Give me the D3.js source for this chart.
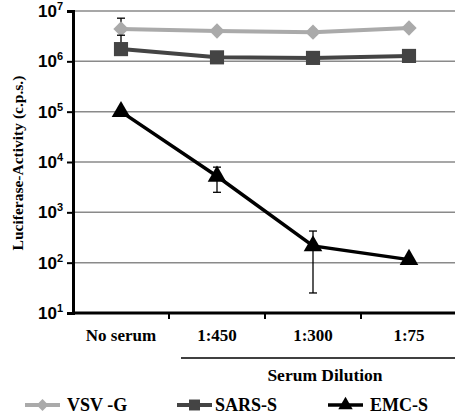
<!DOCTYPE html>
<html><head><meta charset="utf-8">
<script src="https://cdn.jsdelivr.net/npm/d3@7"></script>
<style>body{margin:0;background:#fff}svg{display:block}</style>
</head><body>
<svg id="c" width="455" height="418"></svg>
<script>
const categories = ["No serum","1:450","1:300","1:75"];
const yTicks = [1,2,3,4,5,6,7];
const seriesNames = ["VSV -G","SARS-S","EMC-S"];
const vsvValues = [4.4e6, 4.0e6, 3.8e6, 4.6e6];
const vsvLow    = [4.4e6, 3.6e6, 3.3e6, 4.6e6];
const vsvHigh   = [7.2e6, 4.4e6, 4.3e6, 4.6e6];
const sarsValues = [1.75e6, 1.2e6, 1.17e6, 1.28e6];
const sarsLow    = [1.75e6, 1.2e6, 1.17e6, 1.28e6];
const sarsHigh   = [3.3e6, 1.2e6, 1.17e6, 1.28e6];
const emcValues = [1.0e5, 5.2e3, 215, 115];
const emcLow    = [1.0e5, 2.5e3, 25, 115];
const emcHigh   = [1.0e5, 7.9e3, 425, 115];

const svg = d3.select("#c");
const x = d3.scaleBand().domain(categories).range([73, 457]);
const y = d3.scaleLog().domain([10, 1e7]).range([313, 11]);
const serif = "Liberation Serif, Times New Roman, serif";

// gridlines
svg.append("g").selectAll("line").data(yTicks.slice(1)).join("line")
  .attr("x1",73).attr("x2",455)
  .attr("y1",d=>y(Math.pow(10,d))).attr("y2",d=>y(Math.pow(10,d)))
  .attr("stroke","#8a8a8a").attr("stroke-width",1.5);

// y axis
const ya = svg.append("g").attr("transform","translate(73,0)")
  .call(d3.axisLeft(y).tickValues(yTicks.map(d=>Math.pow(10,d))).tickFormat("").tickSize(6));
ya.select(".domain").attr("stroke","#000").attr("stroke-width",3);
ya.selectAll(".tick line").attr("stroke","#000").attr("stroke-width",2);
const yl = svg.append("g").selectAll("text").data(yTicks).join("text")
  .attr("x",63).attr("y",d=>y(Math.pow(10,d))+6)
  .attr("text-anchor","end")
  .style("font-family","Liberation Sans, Arial, sans-serif").style("font-weight","bold").style("font-size","17px");
yl.append("tspan").text("10");
yl.append("tspan").attr("dy",-7).style("font-size","11px").text(d=>d);

// x axis
const xa = svg.append("g").attr("transform","translate(0,313)")
  .call(d3.axisBottom(x).tickSize(6).tickFormat(""));
xa.select(".domain").attr("stroke","#000").attr("stroke-width",3).attr("d","M73,0H457");
xa.selectAll(".tick").attr("transform",d=>`translate(${x(d)},0)`);
xa.selectAll(".tick line").attr("stroke","#000").attr("stroke-width",2)
  .attr("display",(d,i)=>i===0?"none":null);
svg.append("g").selectAll("text").data(categories).join("text")
  .attr("x",d=>x(d)+x.bandwidth()/2).attr("y",341).attr("text-anchor","middle")
  .style("font-family",serif).style("font-weight","bold").style("font-size","17px")
  .text(d=>d);
svg.append("line").attr("x1",x("1:450")+12).attr("x2",455).attr("y1",358).attr("y2",358)
  .attr("stroke","#000").attr("stroke-width",1.3);
svg.append("text").attr("x",325).attr("y",381).attr("text-anchor","middle")
  .style("font-family",serif).style("font-weight","bold").style("font-size","17.5px")
  .text("Serum Dilution");

// y label
svg.append("text").attr("transform","translate(23,163) rotate(-90)").attr("text-anchor","middle")
  .style("font-family",serif).style("font-weight","bold").style("font-size","15.5px")
  .text("Luciferase-Activity (c.p.s.)");

const cx = d => x(d)+x.bandwidth()/2;
const line = d3.line().x(d=>cx(d.c)).y(d=>y(d.v));
const series = [
  {name:seriesNames[0], vals:vsvValues, lo:vsvLow, hi:vsvHigh, color:"#aaaaaa", w:4, sym:d3.symbolDiamond2, size:150},
  {name:seriesNames[1], vals:sarsValues, lo:sarsLow, hi:sarsHigh, color:"#444444", w:4, sym:d3.symbolSquare, size:200},
  {name:seriesNames[2], vals:emcValues, lo:emcLow, hi:emcHigh, color:"#000000", w:3.5, sym:d3.symbolTriangle, size:150}
];

series.forEach(s=>{
  const pts = categories.map((c,i)=>({c, v:s.vals[i], lo:s.lo[i], hi:s.hi[i]}));
  const eg = svg.append("g");
  pts.filter(p=>p.hi>p.v||p.lo<p.v).forEach(p=>{
    const X = cx(p.c);
    eg.append("line").attr("x1",X).attr("x2",X).attr("y1",y(p.hi)).attr("y2",y(p.lo)).attr("stroke","#000").attr("stroke-width",1.3);
    if (p.hi>p.v) eg.append("line").attr("x1",X-4).attr("x2",X+4).attr("y1",y(p.hi)).attr("y2",y(p.hi)).attr("stroke","#000").attr("stroke-width",1.3);
    if (p.lo<p.v) eg.append("line").attr("x1",X-4).attr("x2",X+4).attr("y1",y(p.lo)).attr("y2",y(p.lo)).attr("stroke","#000").attr("stroke-width",1.3);
  });
  svg.append("path").datum(pts).attr("d",line).attr("fill","none").attr("stroke",s.color).attr("stroke-width",s.w);
  svg.append("g").selectAll("path").data(pts).join("path")
    .attr("transform",p=>`translate(${cx(p.c)},${y(p.v)})`)
    .attr("d",d3.symbol().type(s.sym).size(s.size)).attr("fill",s.color);
});

// legend
const legX = [25, 177, 328], legTX = [67, 215, 370];
series.forEach((s,i)=>{
  const g = svg.append("g");
  g.append("line").attr("x1",legX[i]).attr("x2",legX[i]+35).attr("y1",405).attr("y2",405).attr("stroke",s.color).attr("stroke-width",s.w);
  g.append("path").attr("transform",`translate(${legX[i]+17.5},405)`).attr("d",d3.symbol().type(s.sym).size(s.size*0.6)).attr("fill",s.color);
  g.append("text").attr("x",legTX[i]).attr("y",411)
    .style("font-family",serif).style("font-weight","bold").style("font-size","18px")
    .text(s.name);
});
</script>
</body></html>
